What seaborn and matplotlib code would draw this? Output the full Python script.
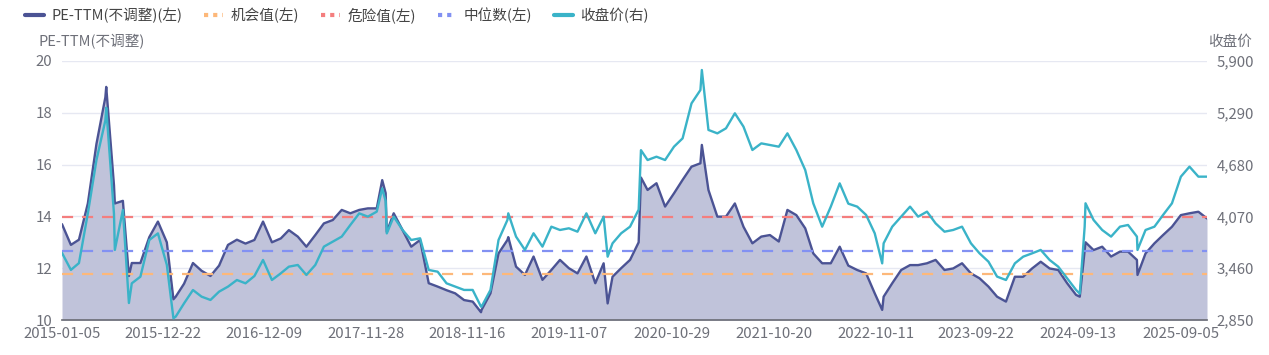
import numpy as np
import pandas as pd
import seaborn as sns
from matplotlib import pyplot as plt
from matplotlib.lines import Line2D
from matplotlib.ticker import FuncFormatter

# monthly samples, 2015-01 .. 2025-12
pe_monthly = [13.7, 12.9, 13.1, 14.5, 16.8, 18.6, 15.2, 14.6, 12.2, 12.2, 13.2, 13.8,
              13.0, 10.9, 11.4, 12.2, 11.9, 11.7, 12.1, 12.9, 13.1, 12.95, 13.09, 13.8,
              13.0, 13.15, 13.47, 13.22, 12.83, 13.28, 13.73, 13.86, 14.25, 14.12, 14.25, 14.31,
              14.31, 14.9, 14.12, 13.47, 12.83, 13.09, 11.42, 11.29, 11.15, 11.03, 10.77, 10.71,
              10.39, 11.03, 12.57, 13.09, 12.06, 11.74, 12.45, 11.55, 11.93, 12.32, 12.0, 11.8,
              12.45, 11.42, 12.19, 11.67, 12.0, 12.32, 13.0, 15.02, 15.28, 14.38, 14.89, 15.41,
              15.92, 16.05, 15.02, 13.99, 13.99, 14.5, 13.6, 12.96, 13.22, 13.28, 13.03, 14.25,
              14.05, 13.54, 12.57, 12.19, 12.19, 12.83, 12.1, 11.93, 11.8, 11.03, 10.9, 11.42,
              11.93, 12.12, 12.12, 12.19, 12.32, 11.93, 11.99, 12.19, 11.8, 11.61, 11.29, 10.9,
              10.71, 11.67, 11.67, 11.99, 12.25, 11.99, 11.93, 11.42, 10.97, 12.7, 12.7, 12.83,
              12.45, 12.64, 12.64, 12.32, 12.57, 12.96, 13.28, 13.6, 14.05, 14.12, 14.18, 13.92]
close_monthly = [3640, 3440, 3520, 4106, 4734, 5200, 4100, 4146, 3282, 3360, 3792, 3870,
                 3500, 2890, 3046, 3203, 3125, 3086, 3184, 3243, 3321, 3282, 3368, 3557,
                 3321, 3400, 3478, 3498, 3380, 3498, 3714, 3773, 3832, 3969, 4106, 4067,
                 4126, 4250, 4067, 3910, 3792, 3812, 3439, 3419, 3282, 3243, 3204, 3204,
                 3007, 3204, 3792, 4028, 3832, 3675, 3871, 3714, 3949, 3910, 3930, 3890,
                 4106, 3871, 4067, 3753, 3871, 3949, 4150, 4734, 4773, 4734, 4891, 4989,
                 5401, 5558, 5088, 5048, 5107, 5284, 5127, 4852, 4930, 4911, 4891, 5048,
                 4852, 4616, 4224, 3949, 4185, 4459, 4220, 4185, 4087, 3871, 3753, 3949,
                 4067, 4185, 4067, 4126, 3988, 3890, 3910, 3949, 3753, 3635, 3537, 3361,
                 3321, 3517, 3596, 3635, 3675, 3557, 3478, 3341, 3204, 3949, 4028, 3910,
                 3832, 3949, 3969, 3832, 3910, 3949, 4087, 4224, 4538, 4656, 4538, 4538]

# peaks / troughs between monthly samples
spike_dates = ["2015-06-08", "2015-07-08", "2015-08-26", "2016-01-28", "2018-01-24",
               "2018-02-09", "2019-01-03", "2019-04-08", "2020-03-19", "2020-07-13",
               "2021-02-10", "2022-10-31", "2024-09-18", "2024-10-08", "2025-04-07"]
spike_pe = [19.0, 14.5, 11.7, 10.8, 15.4, 13.4, 10.3, 13.2, 10.64, 15.5,
            16.76, 10.39, 10.9, 13.0, 11.74]
spike_close = [5350, 3675, 3050, 2870, 4400, 3870, 3007, 4106, 3596, 4850,
               5794, 3517, 3160, 4224, 3675]

opportunity = 11.76
danger = 13.99
median = 12.66

tick_dates = ["2015-01-05", "2015-12-22", "2016-12-09", "2017-11-28", "2018-11-16", "2019-11-07",
              "2020-10-29", "2021-10-20", "2022-10-11", "2023-09-22", "2024-09-13", "2025-09-05"]

months = pd.date_range("2015-01-01", periods=len(pe_monthly), freq="MS") + pd.Timedelta(days=4)
df = pd.concat([
    pd.DataFrame({"date": months, "pe": pe_monthly, "close": close_monthly}),
    pd.DataFrame({"date": pd.to_datetime(spike_dates), "pe": spike_pe, "close": spike_close}),
]).sort_values("date").reset_index(drop=True)

sns.set_theme(style="white")
plt.rcParams['font.family'] = ['Noto Sans CJK SC', 'DejaVu Sans']

c_pe = '#4b5394'
c_close = '#3ab3c8'
c_opp = '#fdb87a'
c_danger = '#f47e7e'
c_median = '#8291f2'
grey = '#6e7079'

fig = plt.figure(figsize=(12.69, 3.55), dpi=100)
ax = fig.add_axes([62 / 1269, 1 - 320 / 355, 1145 / 1269, 259 / 355])

ax.fill_between(df["date"], df["pe"], 10, color='#c0c3da', lw=0, zorder=1)
sns.lineplot(data=df, x="date", y="pe", ax=ax, color=c_pe, lw=1.7, zorder=3)
for v, c in [(opportunity, c_opp), (danger, c_danger), (median, c_median)]:
    ax.axhline(v, color=c, lw=1.6, ls=(0, (5, 4)), zorder=4)

ax2 = ax.twinx()
sns.lineplot(data=df, x="date", y="close", ax=ax2, color=c_close, lw=1.7, zorder=3)

ax.set_ylim(10, 20)
ax.set_yticks(np.arange(10, 21, 2))
ax2.set_ylim(2850, 5900)
ax2.set_yticks(np.linspace(2850, 5900, 6))
ax2.yaxis.set_major_formatter(FuncFormatter(lambda v, p: f"{v:,.0f}"))
ax.set_xlim(pd.Timestamp("2015-01-05"), pd.Timestamp("2025-12-05"))
ax.set_xticks(pd.to_datetime(tick_dates))
ax.set_xticklabels(tick_dates)

ax.grid(axis='y', color='#e6e8f2', lw=1)
ax.set_axisbelow(True)
for a in (ax, ax2):
    for s in a.spines.values():
        s.set_visible(False)
    a.set_xlabel("")
    a.set_ylabel("")
    a.tick_params(colors=grey, labelsize=10.8, length=0, pad=7)
ax.spines['bottom'].set_visible(True)
ax.spines['bottom'].set_color(grey)
ax.spines['bottom'].set_zorder(5)
ax.tick_params(axis='x', pad=5)

fig.text(38 / 1269, 1 - 42 / 355, "PE-TTM(不调整)", color=grey, fontsize=10.5, va='center')
fig.text(1252 / 1269, 1 - 42 / 355, "收盘价", color=grey, fontsize=10.5, va='center', ha='right')

handles = [
    Line2D([], [], color=c_pe, lw=3),
    Line2D([], [], color=c_opp, lw=3, ls=(0, (1, 1.2))),
    Line2D([], [], color=c_danger, lw=3, ls=(0, (1, 1.2))),
    Line2D([], [], color=c_median, lw=3, ls=(0, (1, 1.2))),
    Line2D([], [], color=c_close, lw=3),
]
labels = ["PE-TTM(不调整)(左)", "机会值(左)", "危险值(左)", "中位数(左)", "收盘价(右)"]
fig.legend(handles, labels, loc='center left', bbox_to_anchor=(12 / 1269, 1 - 15 / 355),
           ncol=5, frameon=False, fontsize=10.5, handlelength=1.3, handletextpad=0.5,
           columnspacing=1.5, labelcolor='#444')

plt.savefig("out.png", dpi=100)
